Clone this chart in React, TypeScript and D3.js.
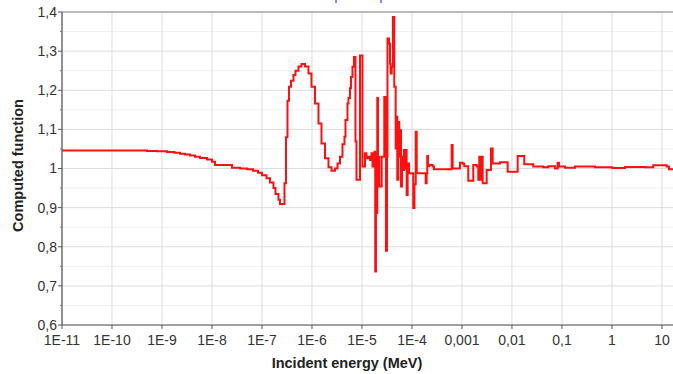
import React from "react";
import * as d3 from "d3";

// y axis ticks
const yTicks = [0.6, 0.7, 0.8, 0.9, 1.0, 1.1, 1.2, 1.3, 1.4];
const yTickLabels = ["0,6", "0,7", "0,8", "0,9", "1", "1,1", "1,2", "1,3", "1,4"];
const yMinorTicks = [0.65, 0.75, 0.85, 0.95, 1.05, 1.15, 1.25, 1.35];

// x axis ticks (log10 of MeV)
const xTickExp = [-11, -10, -9, -8, -7, -6, -5, -4, -3, -2, -1, 0, 1];
const xTickLabels = ["1E-11", "1E-10", "1E-9", "1E-8", "1E-7", "1E-6", "1E-5", "1E-4", "0,001", "0,01", "0,1", "1", "10"];

// thermal + first resonance (log10 E, ratio)
const thermalLogE = [-11, -9.3, -9.1, -8.9, -8.75, -8.64, -8.54, -8.44, -8.34, -8.24, -8.1, -8.0, -7.94, -7.6, -7.44, -7.3, -7.18, -7.08, -7.0, -6.91, -6.84, -6.77, -6.73, -6.67, -6.64, -6.55, -6.52, -6.49, -6.46, -6.42, -6.37, -6.33, -6.27, -6.21, -6.14, -6.07, -6.01, -5.94, -5.87, -5.81, -5.74, -5.67, -5.61, -5.54];
const thermalRatio = [1.046, 1.045, 1.044, 1.042, 1.040, 1.038, 1.036, 1.033, 1.030, 1.027, 1.023, 1.017, 1.009, 1.002, 1.000, 0.998, 0.994, 0.989, 0.983, 0.975, 0.964, 0.950, 0.935, 0.920, 0.909, 0.962, 1.080, 1.173, 1.209, 1.224, 1.239, 1.250, 1.261, 1.267, 1.261, 1.243, 1.209, 1.166, 1.115, 1.064, 1.026, 1.003, 0.994, 1.000];

// resolved resonance region
const resonanceLogE = [-5.49, -5.44, -5.39, -5.35, -5.33, -5.29, -5.27, -5.24, -5.22, -5.19, -5.16, -5.13, -5.11, -5.04, -4.99, -4.94, -4.91, -4.87, -4.84, -4.81, -4.79, -4.75, -4.735, -4.72, -4.706, -4.694, -4.68, -4.654, -4.606, -4.554, -4.52, -4.5, -4.49, -4.46, -4.44, -4.426, -4.406, -4.38, -4.354, -4.326, -4.306, -4.294, -4.274, -4.254, -4.234, -4.22, -4.2, -4.174, -4.16, -4.14, -4.12, -4.106, -4.086, -4.06, -3.975, -3.95, -3.925, -3.905];
const resonanceRatio = [1.013, 1.030, 1.062, 1.081, 1.124, 1.166, 1.180, 1.205, 1.234, 1.260, 1.285, 1.069, 0.971, 1.289, 1.005, 1.039, 1.026, 1.030, 1.022, 1.039, 1.005, 1.043, 0.737, 1.030, 0.886, 1.180, 1.030, 0.954, 1.030, 1.183, 0.790, 1.030, 1.332, 1.319, 1.268, 1.243, 1.260, 1.387, 1.209, 1.051, 1.132, 0.971, 1.119, 1.030, 1.098, 0.954, 1.030, 0.996, 1.047, 1.000, 1.047, 0.932, 1.013, 0.988, 0.899, 0.960, 1.094, 0.988];

// unresolved + fast region
const fastLogE = [-3.726, -3.706, -3.694, -3.68, -3.654, -3.586, -3.56, -3.206, -3.186, -3.04, -2.986, -2.954, -2.874, -2.774, -2.706, -2.674, -2.654, -2.626, -2.606, -2.586, -2.506, -2.42, -2.386, -2.24, -2.086, -1.886, -1.754, -1.574, -1.374, -1.274, -1.14, -1.086, -1.06, -0.94, -0.74, -0.34, 0.006, 0.26, 0.66, 0.826, 1.094, 1.14, 1.3];
const fastRatio = [0.962, 0.988, 1.032, 1.006, 1.009, 1.005, 0.998, 1.060, 1.000, 1.015, 1.012, 1.006, 0.969, 1.009, 1.005, 0.971, 1.030, 0.971, 1.030, 0.962, 0.996, 1.051, 1.013, 1.016, 0.992, 1.032, 1.011, 1.005, 1.003, 1.006, 1.000, 1.015, 1.005, 1.002, 1.005, 1.003, 1.001, 1.004, 1.003, 1.008, 1.005, 0.998, 0.998];

const W = 673;
const H = 374;
const margin = { top: 12, right: -4, bottom: 49, left: 62 };

const App = () => {
  const x = d3
    .scaleLog()
    .domain([1e-11, 20])
    .range([margin.left, W - margin.right]);
  const y = d3
    .scaleLinear()
    .domain([0.6, 1.4])
    .range([H - margin.bottom, margin.top]);

  const points = [
    ...thermalLogE.map((e, i) => [10 ** e, thermalRatio[i]]),
    ...resonanceLogE.map((e, i) => [10 ** e, resonanceRatio[i]]),
    ...fastLogE.map((e, i) => [10 ** e, fastRatio[i]]),
  ];

  const line = d3
    .line<number[]>()
    .x((d) => x(d[0]))
    .y((d) => y(d[1]))
    .curve(d3.curveStepAfter);

  const x0 = margin.left;
  const x1 = W - margin.right;
  const y0 = H - margin.bottom;
  const y1 = margin.top;
  const font = "'Liberation Sans', Arial, sans-serif";

  return (
    <svg
      width={W}
      height={H}
      style={{ position: "absolute", left: 0, top: 0, background: "#fff" }}
      fontFamily={font}
    >
      <defs>
        <clipPath id="plot">
          <rect x={x0} y={y1 - 2} width={x1 - x0} height={y0 - y1 + 4} />
        </clipPath>
      </defs>

      <text x={308} y={-0.5} fontSize={12.6} fill="#2233ee">
        Comparison plot
      </text>

      {yMinorTicks.map((t) => (
        <line key={"gm" + t} x1={x0} x2={x1} y1={y(t)} y2={y(t)} stroke="#f0f0f0" />
      ))}
      {yTicks.map((t) => (
        <line key={"g" + t} x1={x0} x2={x1} y1={y(t)} y2={y(t)} stroke="#dcdcdc" />
      ))}
      {xTickExp.map((e) => (
        <line key={"gx" + e} x1={x(10 ** e)} x2={x(10 ** e)} y1={y1} y2={y0} stroke="#dcdcdc" />
      ))}

      <path
        d={line(points) || ""}
        fill="none"
        stroke="#ff1010"
        strokeWidth={2}
        clipPath="url(#plot)"
      />

      {/* frame */}
      <line x1={x0} x2={x1} y1={y1} y2={y1} stroke="#8a8a8a" />
      <line x1={x0} x2={x0} y1={y1} y2={y0} stroke="#555" strokeWidth={1.2} />
      <line x1={x0} x2={x1} y1={y0} y2={y0} stroke="#555" strokeWidth={1.2} />

      {yTicks.map((t, i) => (
        <g key={"yt" + t}>
          <line x1={x0 - 4} x2={x0} y1={y(t)} y2={y(t)} stroke="#555" />
          <text x={x0 - 5} y={y(t)} dy="0.35em" textAnchor="end" fontSize={14} fill="#333">
            {yTickLabels[i]}
          </text>
        </g>
      ))}
      {yMinorTicks.map((t) => (
        <line key={"ym" + t} x1={x0 - 2} x2={x0} y1={y(t)} y2={y(t)} stroke="#777" />
      ))}
      {xTickExp.map((e, i) => (
        <g key={"xt" + e}>
          <line x1={x(10 ** e)} x2={x(10 ** e)} y1={y0} y2={y0 + 4} stroke="#555" />
          <text x={x(10 ** e)} y={y0 + 20} textAnchor="middle" fontSize={14} fill="#333">
            {xTickLabels[i]}
          </text>
        </g>
      ))}

      <text x={347} y={368} textAnchor="middle" fontSize={14.5} fontWeight="bold" fill="#222">
        Incident energy (MeV)
      </text>
      <text
        transform={`translate(23,${(y0 + y1) / 2 - 3}) rotate(-90)`}
        textAnchor="middle"
        fontSize={14.5}
        fontWeight="bold"
        fill="#222"
      >
        Computed function
      </text>
    </svg>
  );
};

export default App;
